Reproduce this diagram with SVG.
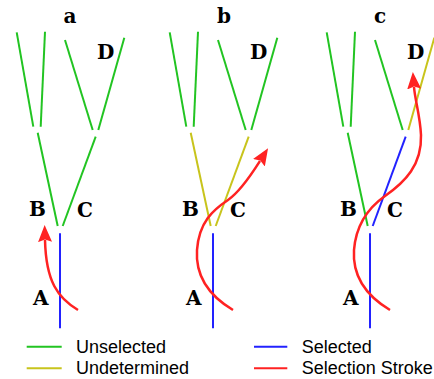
<svg xmlns="http://www.w3.org/2000/svg" width="434" height="379" viewBox="0 0 434 379">
<style>
.g{stroke:#22c422;stroke-width:2;fill:none}
.y{stroke:#c8c41c;stroke-width:2;fill:none}
.b{stroke:#2222ff;stroke-width:2;fill:none}
.r{stroke:#ff2222;stroke-width:2.5;fill:none;marker-end:url(#ah)}
.lbl{font-family:"DejaVu Serif",serif;font-weight:bold;font-size:20px;fill:#000}
.leg{font-family:"Liberation Sans",Arial,sans-serif;font-size:18px;fill:#000}
</style>
<defs>
<marker id="ah" viewBox="0 0 17 14" markerWidth="17" markerHeight="14" markerUnits="userSpaceOnUse" refX="2" refY="7" orient="auto">
<path d="M0,0 L17,7 L0,14 L2.5,7 z" fill="#ff2222"/>
</marker>
</defs>
<rect width="434" height="379" fill="#fff"/>
<g id="connectors">
<g id="panel-a">
<line class="g" x1="16.7" y1="32.3" x2="33.3" y2="126.7"/>
<line class="g" x1="45" y1="31.7" x2="40.7" y2="126.7"/>
<line class="g" x1="65" y1="40" x2="92.7" y2="130"/>
<line class="g" x1="124.3" y1="37.7" x2="98.3" y2="130"/>
<line class="g" x1="37.7" y1="132.7" x2="57.7" y2="226"/>
<line class="g" x1="95.7" y1="136.7" x2="62.7" y2="226"/>
<line class="b" x1="60" y1="233.3" x2="60" y2="328.3"/>
<path class="r" d="M78,310 C58,298 46,282 45,240"/>
</g>
<g id="panel-b" transform="translate(153,0)">
<line class="g" x1="16.7" y1="32.3" x2="33.3" y2="126.7"/>
<line class="g" x1="45" y1="31.7" x2="40.7" y2="126.7"/>
<line class="g" x1="65" y1="40" x2="92.7" y2="130"/>
<line class="g" x1="124.3" y1="37.7" x2="98.3" y2="130"/>
<line class="y" x1="37.7" y1="132.7" x2="57.7" y2="226"/>
<line class="y" x1="95.7" y1="136.7" x2="62.7" y2="226"/>
<line class="b" x1="60" y1="233.3" x2="60" y2="328.3"/>
<path class="r" d="M80,310 C60,298 42,280 44,250 C46,222 60,210 75,200 C88,191 100,172 107,161"/>
</g>
<g id="panel-c" transform="translate(310,0)">
<line class="g" x1="16.7" y1="32.3" x2="33.3" y2="126.7"/>
<line class="g" x1="45" y1="31.7" x2="40.7" y2="126.7"/>
<line class="g" x1="65" y1="40" x2="92.7" y2="130"/>
<line class="y" x1="124.3" y1="37.7" x2="98.3" y2="130"/>
<line class="g" x1="37.7" y1="132.7" x2="57.7" y2="226"/>
<line class="b" x1="95.7" y1="136.7" x2="62.7" y2="226"/>
<line class="b" x1="60" y1="233.3" x2="60" y2="328.3"/>
<path class="r" d="M80,310 C60,298 42,280 44,250 C46,225 58,208 75,196 C95,182 112,165 111,135 C110,115 105,100 104,87"/>
</g>
</g>
<g id="labels-a">
<text class="lbl" x="70" y="23" text-anchor="middle">a</text>
<text class="lbl" x="97" y="59">D</text>
<text class="lbl" x="29" y="216">B</text>
<text class="lbl" x="77" y="217">C</text>
<text class="lbl" x="33" y="305">A</text>
</g>
<g id="labels-b" transform="translate(153,0)">
<text class="lbl" x="71" y="23" text-anchor="middle">b</text>
<text class="lbl" x="97" y="59">D</text>
<text class="lbl" x="29" y="216">B</text>
<text class="lbl" x="77" y="217">C</text>
<text class="lbl" x="33" y="305">A</text>
</g>
<g id="labels-c" transform="translate(310,0)">
<text class="lbl" x="70" y="23" text-anchor="middle">c</text>
<text class="lbl" x="97" y="59">D</text>
<text class="lbl" x="30" y="216">B</text>
<text class="lbl" x="77" y="217">C</text>
<text class="lbl" x="33" y="305">A</text>
</g>
<g id="legend">
<line class="g" x1="26.7" y1="346.7" x2="61.7" y2="346.7"/>
<text class="leg" x="76" y="353">Unselected</text>
<line class="y" x1="26.7" y1="368.3" x2="61.7" y2="368.3"/>
<text class="leg" x="76" y="374">Undetermined</text>
<line class="b" x1="254" y1="346.7" x2="287.3" y2="346.7"/>
<text class="leg" x="301.7" y="353">Selected</text>
<line stroke="#ff2222" stroke-width="2" x1="254" y1="368.3" x2="287.3" y2="368.3"/>
<text class="leg" x="301.7" y="374">Selection Stroke</text>
</g>
</svg>
